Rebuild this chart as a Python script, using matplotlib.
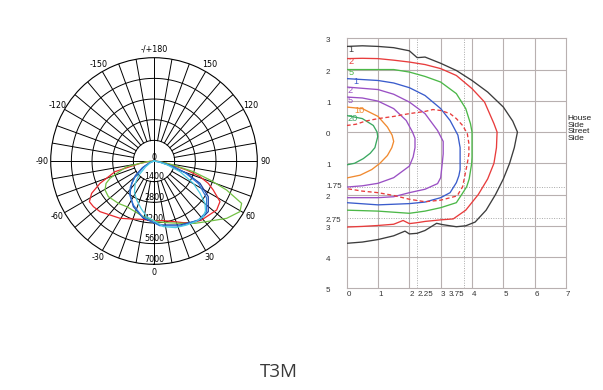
import numpy as np
import matplotlib
matplotlib.use("Agg")
import matplotlib.pyplot as plt
from matplotlib.transforms import ScaledTranslation

# ---------------- polar (candela) data: angle in degrees (0 = down, + = right), value in cd
red_ang = [-90, -85, -80.5, -74.7, -67.5, -62.6, -57.8, -53, -46.8, -39.2, -30.7, -21, -13.5, 0, 8.9, 17.7, 25.4, 32.5, 38.9, 43.4, 52, 58.4, 63.9, 67.6, 71.2, 74.6, 79.6, 85, 90]
red_cd = [0, 300, 960, 2740, 3960, 4760, 5175, 5140, 5015, 4720, 4515, 4210, 4060, 4040, 4090, 4310, 4625, 4950, 5140, 5190, 5390, 5250, 4470, 3980, 3290, 2295, 870, 250, 0]

green_ang = [-90, -84, -78.3, -71.7, -68.5, -65, -59.4, -52, -46.2, -40, -30.9, -20.6, -10.8, 2.5, 11.6, 22.6, 33.3, 41, 51.7, 59.5, 64.2, 68.2, 71.3, 74.8, 78.3, 84, 90]
green_cd = [0, 500, 1890, 2660, 3200, 3585, 3855, 3925, 3815, 3750, 3605, 3660, 3840, 4110, 4265, 4575, 5055, 5440, 6270, 6760, 6595, 5300, 4005, 2760, 1340, 400, 0]

dblue_ang = [-90, -70, -60, -52, -45, -36.6, -30, -24.3, -10.5, 5.4, 22.1, 38, 47, 56.7, 64.1, 69.3, 73.7, 80, 90]
dblue_cd = [0, 300, 900, 1600, 2140, 2725, 3050, 3395, 3950, 4355, 4680, 5070, 5030, 4400, 3465, 2365, 1365, 400, 0]

mblue_ang = [-90, -70, -60, -50, -42, -35, -25, -12, 5, 22, 37, 46, 55, 63, 69, 74, 80, 90]
mblue_cd = [0, 250, 800, 1700, 2400, 2850, 3300, 3850, 4400, 4750, 5000, 4950, 4350, 3400, 2300, 1300, 400, 0]

cyan_ang = [-90, -70, -55, -47, -40, -32, -24, -15, -7.5, 8.1, 18, 27, 35, 41.5, 46, 50.3, 55, 60.4, 67.7, 74, 80, 90]
cyan_cd = [0, 200, 700, 1400, 1985, 2500, 2890, 3350, 3800, 4490, 4750, 4870, 5000, 5040, 4850, 4490, 3800, 3065, 1905, 900, 300, 0]

ring_values = [1400, 2800, 4200, 5600, 7000]
angle_ticks = [0, 30, 60, 90, 120, 150, 180, -150, -120, -90, -60, -30]
angle_labels = ["0", "30", "60", "90", "120", "150", "-/+180", "-150", "-120", "-90", "-60", "-30"]

# ---------------- isolux data (x, y in mounting heights)
c01_x = [0, 0.5, 1, 1.5, 2, 2.25, 2.5, 3, 3.5, 4, 4.5, 5, 5.3, 5.45, 5.35, 5.2, 5.0, 4.75, 4.45, 4.1, 3.8, 3.5, 3.3, 3.05, 2.87, 2.5, 2.25, 2.0, 1.86, 1.5, 1, 0.5, 0]
c01_y = [2.74, 2.76, 2.74, 2.7, 2.6, 2.38, 2.4, 2.2, 1.97, 1.65, 1.28, 0.8, 0.35, 0.0, -0.5, -1.0, -1.5, -2.0, -2.5, -2.88, -3.0, -3.03, -3.0, -2.96, -2.92, -3.15, -3.24, -3.26, -3.17, -3.32, -3.44, -3.52, -3.56]
c02_x = [0, 0.5, 1, 1.5, 2, 2.5, 3, 3.5, 4, 4.4, 4.7, 4.8, 4.78, 4.7, 4.5, 4.2, 3.8, 3.4, 3.0, 2.5, 2.25, 2.0, 1.8, 1.5, 1, 0.5, 0]
c02_y = [2.35, 2.36, 2.35, 2.3, 2.24, 2.16, 2.03, 1.81, 1.39, 0.96, 0.27, 0.0, -0.5, -1.0, -1.5, -2.0, -2.5, -2.78, -2.81, -2.86, -2.9, -2.93, -2.83, -2.95, -2.99, -3.02, -3.04]
c05_x = [0, 1, 1.5, 2, 2.5, 3, 3.5, 3.8, 3.95, 4.0, 4.0, 3.99, 3.91, 3.83, 3.67, 3.5, 3.0, 2.5, 2.0, 1.0, 0]
c05_y = [2.0, 2.0, 2.0, 1.92, 1.78, 1.6, 1.23, 0.75, 0.27, 0.0, -0.8, -1.0, -1.5, -1.75, -2.0, -2.26, -2.42, -2.53, -2.6, -2.53, -2.5]
c1_x = [0, 1, 1.5, 2, 2.5, 3, 3.3, 3.55, 3.62, 3.62, 3.58, 3.5, 3.3, 3.0, 2.5, 2.0, 1.0, 0]
c1_y = [1.71, 1.65, 1.57, 1.42, 1.17, 0.75, 0.37, -0.1, -0.5, -1.2, -1.4, -1.62, -1.94, -2.1, -2.24, -2.29, -2.33, -2.26]
c2_x = [0, 1, 1.5, 2, 2.5, 2.9, 3.08, 3.08, 3.05, 3.0, 2.9, 2.5, 2.0, 1.5, 1.0, 0]
c2_y = [1.44, 1.36, 1.21, 0.96, 0.59, 0.05, -0.3, -0.7, -1.0, -1.46, -1.65, -1.83, -1.94, -2.07, -2.1, -2.1]
c5_x = [0, 0.5, 1, 1.5, 1.9, 2.1, 2.18, 2.18, 2.12, 2.0, 1.5, 1.0, 0.5, 0]
c5_y = [1.12, 1.09, 0.99, 0.75, 0.37, 0.0, -0.2, -0.5, -0.8, -1.09, -1.46, -1.64, -1.72, -1.76]
c10_x = [0, 0.5, 1, 1.3, 1.45, 1.5, 1.44, 1.3, 1.06, 0.8, 0.43, 0]
c10_y = [0.8, 0.75, 0.5, 0.16, -0.1, -0.3, -0.5, -0.75, -1.0, -1.2, -1.38, -1.47]
c20_x = [0, 0.5, 0.85, 0.97, 0.99, 0.9, 0.75, 0.53, 0.25, 0]
c20_y = [0.53, 0.43, 0.21, 0.0, -0.15, -0.5, -0.68, -0.85, -1.0, -1.05]
maxcd_x = [0, 0.3, 0.6, 1, 1.5, 2, 2.5, 2.75, 3, 3.3, 3.5, 3.7, 3.85, 3.9, 3.9, 3.85, 3.75, 3.7, 3.55, 3.5, 3.0, 2.5, 2.0, 1.5, 1.0, 0.5, 0]
maxcd_y = [0.21, 0.25, 0.35, 0.43, 0.5, 0.59, 0.66, 0.72, 0.69, 0.59, 0.43, 0.21, -0.05, -0.37, -0.7, -1.0, -1.5, -1.75, -2.0, -2.05, -2.18, -2.23, -2.15, -2.03, -1.94, -1.89, -1.81]

contour_labels = ["1", "2", "5", "1", "2", "5", "10", "20"]
x_ticks = [0, 1, 2, 2.25, 3, 3.75, 4, 5, 6, 7]
x_ticklabels = ["0", "1", "2", "2.25", "3", "3.75", "4", "5", "6", "7"]
y_ticks = [3, 2, 1, 0, -1, -1.75, -2, -2.75, -3, -4, -5]
y_ticklabels = ["3", "2", "1", "0", "1", "1.75", "2", "2.75", "3", "4", "5"]

# ---------------- figure
fig = plt.figure(figsize=(6.03, 3.9), dpi=100)
fig.patch.set_facecolor("white")

# ---- polar plot
W, H = 603.0, 390.0
cx, cy, R = 154.0, 161.0, 103.3
ax = fig.add_axes([(cx - R) / W, (H - cy - R) / H, 2 * R / W, 2 * R / H], projection="polar")
ax.set_theta_zero_location("S")
ax.set_theta_direction(1)
ax.set_ylim(0, 7000)
ax.grid(False)
ax.set_xticks([])
ax.set_yticks([])
ax.spines["polar"].set_linewidth(0.8)
ax.spines["polar"].set_color("black")
ax.set_facecolor("white")

full = np.linspace(0, 2 * np.pi, 721)
for rv in ring_values[:-1]:
    ax.plot(full, np.full_like(full, rv), color="black", lw=0.7, zorder=1)
for a in range(-170, 190, 10):
    r0 = 0 if a % 90 == 0 else ring_values[0]
    ax.plot([np.deg2rad(a)] * 2, [r0, 7000], color="black", lw=0.7, zorder=1)

lab_font = dict(fontsize=5.8, family="DejaVu Sans", color="black")
for a, lbl in zip(angle_ticks, angle_labels):
    ax.text(np.deg2rad(a), 7560, lbl, ha="center", va="center", clip_on=False, **lab_font)
ax.text(np.pi, 260, "0", ha="center", va="center", **lab_font)
for rv in ring_values:
    ax.text(0, rv - 330, str(rv), ha="center", va="center", **lab_font)

curves = [
    (red_ang, red_cd, "#e8282c"),
    (green_ang, green_cd, "#72c043"),
    (dblue_ang, dblue_cd, "#1e3e9c"),
    (mblue_ang, mblue_cd, "#2b78d8"),
    (cyan_ang, cyan_cd, "#4ccbe2"),
]
for ang, cd, col in curves:
    ax.plot(np.deg2rad(ang), cd, color=col, lw=0.9, zorder=3)

# ---- isolux plot
bx0, bx1, by0, by1 = 346.7, 566.0, 38.3, 288.3
ax2 = fig.add_axes([bx0 / W, (H - by1) / H, (bx1 - bx0) / W, (by1 - by0) / H])
ax2.set_xlim(0, 7)
ax2.set_ylim(-5, 3)
gcol = "#b8b0b0"
for xv in range(1, 7):
    ax2.axvline(xv, color=gcol, lw=0.8, zorder=0)
for yv in range(-4, 3):
    ax2.axhline(yv, color=gcol, lw=0.8, zorder=0)
for xv in [2.25, 3.75]:
    ax2.axvline(xv, color="#a8a8a8", lw=0.7, ls=(0, (1, 1.5)), zorder=0)
for yv in [-1.75, -2.75]:
    ax2.axhline(yv, color="#a8a8a8", lw=0.7, ls=(0, (1, 1.5)), zorder=0)
for s in ax2.spines.values():
    s.set_color(gcol)
    s.set_linewidth(0.8)

iso = [
    (c01_x, c01_y, "#3c3c3c"),
    (c02_x, c02_y, "#e83c3c"),
    (c05_x, c05_y, "#4cb848"),
    (c1_x, c1_y, "#3a5ccc"),
    (c2_x, c2_y, "#9a50c4"),
    (c5_x, c5_y, "#9a50c4"),
    (c10_x, c10_y, "#f08a30"),
    (c20_x, c20_y, "#3aa860"),
]
lab_xoff = [0.05, 0.05, 0.05, 0.22, 0.03, 0.03, 0.25, 0.03]
for (xs, ys, col), lbl, xo in zip(iso, contour_labels, lab_xoff):
    ax2.plot(xs, ys, color=col, lw=0.95, zorder=3)
    ax2.text(xo, ys[0] - 0.1, lbl, color=col, fontsize=6.6, family="Liberation Sans",
             ha="left", va="center", zorder=4)
ax2.plot(maxcd_x, maxcd_y, color="#e83c3c", lw=0.95, ls=(0, (3, 2)), zorder=3)

tick_font = dict(fontsize=5.8, family="Liberation Sans", color="#333333")
ax2.set_xticks(x_ticks)
ax2.set_xticklabels(x_ticklabels, **tick_font)
ax2.set_yticks(y_ticks)
ax2.set_yticklabels(y_ticklabels, **tick_font)
ax2.tick_params(axis="both", length=0)
ax2.tick_params(axis="x", pad=2.0)
ax2.tick_params(axis="y", pad=14.9)
for lbl in ax2.get_xticklabels():
    lbl.set_ha("right" if lbl.get_text() == "3.75" else "left")
for lbl in ax2.get_yticklabels():
    lbl.set_ha("left")
    dy = 1.0 if lbl.get_text() == "1.75" else -1.5
    lbl.set_transform(lbl.get_transform() + ScaledTranslation(0, dy / 100.0, fig.dpi_scale_trans))

ax2.text(7.04, 0.55, "House\nSide\nStreet\nSide", ha="left", va="top", fontsize=6.0,
         family="Liberation Sans", color="#222222", linespacing=0.95, clip_on=False)

fig.text(279 / W, 1 - 371.7 / H, "T3M", ha="center", va="center", fontsize=13.5,
         family="Open Sans", color="#3a3a3a")

fig.savefig("out.png", dpi=100, facecolor="white")
